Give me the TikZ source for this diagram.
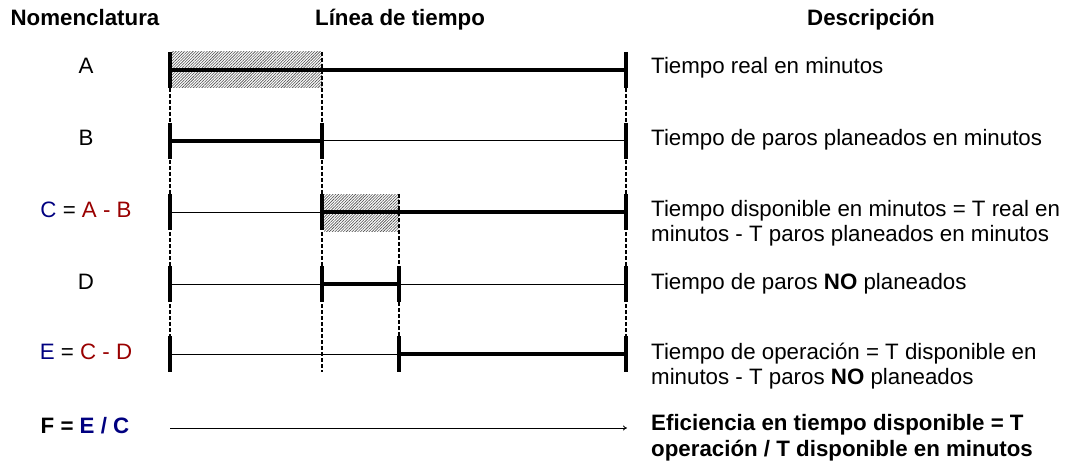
\documentclass[tikz,border=0pt]{standalone}
\usepackage{fontspec}
\setmainfont{Liberation Sans}
\usetikzlibrary{patterns.meta,arrows.meta}
\definecolor{navy}{HTML}{000080}
\definecolor{dred}{HTML}{990000}
\begin{document}
\begin{tikzpicture}[x=1pt,y=-1pt,
  txt/.style={inner sep=0pt,font=\fontsize{22.3}{25}\selectfont},
  boldtxt/.style={font=\fontsize{22.3}{25}\selectfont\bfseries},
  head/.style={txt,boldtxt,anchor=base},
  nom/.style={txt,anchor=base},
  desc/.style={txt,anchor=base west},
  thick line/.style={line width=3.5pt},
  thin line/.style={line width=1pt},
  tick/.style={line width=4.2pt},
  guide/.style={line width=2pt,dash pattern=on 4pt off 2pt},
  hatch/.style={pattern={Lines[angle=45,distance=2pt,line width=0.6pt]},pattern color=black!70,draw=none}
]
\useasboundingbox (0,0) rectangle (1067,465);
% columns
\def\xa{170}\def\xb{322}\def\xc{399}\def\xd{626}
\def\th{18}
% headers
\node[head] (h1) at (85,26) {Nomenclatura};
\node[head] (h2) at (400,26) {Línea de tiempo};
\node[head] (h3) at (871,26) {Descripción};
% hatched areas
\fill[hatch] (172,52) rectangle (322,88);
\fill[hatch] (324,194) rectangle (399,231);
% guide dashed lines
\coordinate (ga1) at (\xa,52); \coordinate (ga2) at (\xa,372);
\coordinate (gb1) at (\xb,52); \coordinate (gb2) at (\xb,372);
\coordinate (gc1) at (\xc,194); \coordinate (gc2) at (\xc,372);
\coordinate (gd1) at (\xd,52); \coordinate (gd2) at (\xd,372);
\draw[guide] (ga1) -- (ga2);
\draw[guide] (gb1) -- (gb2);
\draw[guide] (gc1) -- (gc2);
\draw[guide] (gd1) -- (gd2);
% Row A (y=70)
\coordinate (A1) at (\xa,70); \coordinate (A4) at (\xd,70);
\draw[thick line] (A1) -- (A4);
\draw[tick] (\xa,70-\th) -- (\xa,70+\th);
\draw[tick] (\xd,70-\th) -- (\xd,70+\th);
% Row B (y=141)
\coordinate (B1) at (\xa,141); \coordinate (B2) at (\xb,141); \coordinate (B4) at (\xd,141);
\draw[thick line] (B1) -- (B2);
\draw[thin line] (B2) -- (B4);
\foreach \x in {\xa,\xb,\xd} \draw[tick] (\x,141-\th) -- (\x,141+\th);
% Row C (y=212)
\coordinate (C1) at (\xa,212); \coordinate (C2) at (\xb,212); \coordinate (C4) at (\xd,212);
\draw[thin line] (C1) -- (C2);
\draw[thick line] (C2) -- (C4);
\foreach \x in {\xa,\xb,\xd} \draw[tick] (\x,212-\th) -- (\x,212+\th);
% Row D (y=284)
\coordinate (D1) at (\xa,284); \coordinate (D2) at (\xb,284); \coordinate (D3) at (\xc,284); \coordinate (D4) at (\xd,284);
\draw[thin line] (D1) -- (D2);
\draw[thick line] (D2) -- (D3);
\draw[thin line] (D3) -- (D4);
\foreach \x in {\xa,\xb,\xc,\xd} \draw[tick] (\x,284-\th) -- (\x,284+\th);
% Row E (y=354)
\coordinate (E1) at (\xa,354); \coordinate (E3) at (\xc,354); \coordinate (E4) at (\xd,354);
\draw[thin line] (E1) -- (E3);
\draw[thick line] (E3) -- (E4);
\foreach \x in {\xa,\xc,\xd} \draw[tick] (\x,354-\th) -- (\x,354+\th);
% Row F arrow
\coordinate (F1) at (\xa,428); \coordinate (F4) at (627,428);
\draw[line width=0.8pt,-{To[length=4pt,width=5pt]}] (F1) -- (F4);
% Nomenclature
\node[nom] (nA) at (86,74) {A};
\node[nom] (nB) at (86,146) {B};
\node[nom] (nC) at (86,217) {\textcolor{navy}{C} = \textcolor{dred}{A - B}};
\node[nom] (nD) at (86,289) {D};
\node[nom] (nE) at (86,359) {\textcolor{navy}{E} = \textcolor{dred}{C - D}};
\node[nom,boldtxt] (nF) at (85,433) {F = \textcolor{navy}{E / C}};
% Descriptions
\node[desc] (dA) at (651,74) {Tiempo real en minutos};
\node[desc] (dB) at (651,146) {Tiempo de paros planeados en minutos};
\node[desc] (dC1) at (651,216) {Tiempo disponible en minutos = T real en};
\node[desc] (dC2) at (651,241) {minutos - T paros planeados en minutos};
\node[desc] (dD) at (651,289) {Tiempo de paros \textbf{NO} planeados};
\node[desc] (dE1) at (651,359) {Tiempo de operación = T disponible en};
\node[desc] (dE2) at (651,384.5) {minutos - T paros \textbf{NO} planeados};
\node[desc,boldtxt] (dF1) at (651,430) {Eficiencia en tiempo disponible = T};
\node[desc,boldtxt] (dF2) at (651,456) {operación / T disponible en minutos};
\end{tikzpicture}
\end{document}
